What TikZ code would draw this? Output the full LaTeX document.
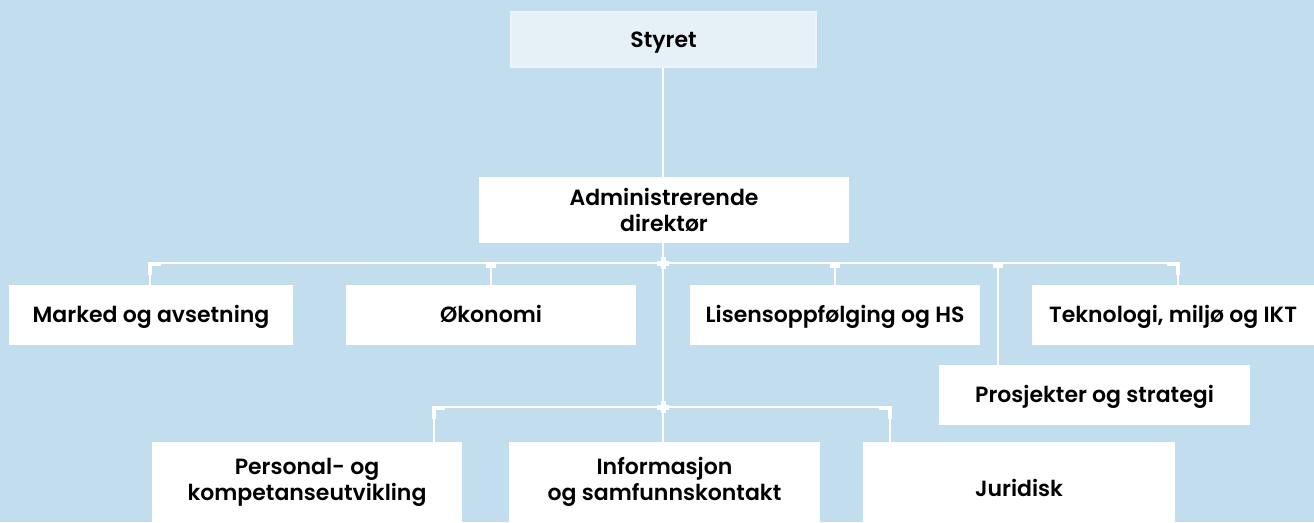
\documentclass[tikz,border=0pt]{standalone}
\usepackage{fontspec}
\setmainfont{Poppins}[UprightFont=* SemiBold, BoldFont=* Bold]
\usetikzlibrary{calc}
\definecolor{bg}{HTML}{C2DDED}
\definecolor{pale}{HTML}{E5F0F7}
\definecolor{paleedge}{HTML}{EDF5FA}
\tikzset{
  box/.style={rectangle, fill=white, inner sep=0pt, align=center, font=\fontsize{22}{26}\selectfont, text=black},
  one/.style={text height=16pt, text depth=0.6pt},
  topbox/.style={box, one, fill=pale, draw=paleedge, line width=1.5pt},
  conn/.style={draw=white, line width=2pt},
}
\begin{document}
\begin{tikzpicture}[x=1pt,y=-1pt]
\useasboundingbox (0,0) rectangle (1314,522);
\fill[bg] (0,0) rectangle (1314,522);
\begin{scope}
\clip (0,0) rectangle (1314,522);
% nodes
\node[topbox, minimum width=305pt, minimum height=55pt] (styret) at (663.5,39.5) {Styret};
\node[box, minimum width=370pt, minimum height=66pt] (adm) at (664,210) {Administrerende\\direktør};
\node[box, one, minimum width=284pt, minimum height=60pt] (marked) at (151,315) {Marked og avsetning};
\node[box, one, minimum width=290pt, minimum height=60pt] (okonomi) at (491,315) {Økonomi};
\node[box, one, minimum width=290pt, minimum height=60pt] (lisens) at (835,315) {Lisensoppfølging og HS};
\node[box, one, minimum width=282pt, minimum height=60pt] (tekn) at (1173,315) {Teknologi, miljø og IKT};
\node[box, one, minimum width=311pt, minimum height=60pt] (prosj) at (1094.5,395) {Prosjekter og strategi};
\node[box, minimum width=310pt, minimum height=80pt] (pers) at (307,482) {Personal- og\\kompetanseutvikling};
\node[box, minimum width=311pt, minimum height=80pt] (info) at (664.5,482) {Informasjon\\og samfunnskontakt};
\node[box, minimum width=312pt, minimum height=80pt, text height=30pt, text depth=0.6pt] (jur) at (1019,482) {Juridisk};
\end{scope}
% bus coordinates
\coordinate (busL) at (150,263);
\coordinate (busR) at (1178,263);
\coordinate (busC) at (663,263);
\coordinate (pd) at (998,263);
\coordinate (bus2L) at (434,407);
\coordinate (bus2R) at (890,407);
\coordinate (bus2C) at (663,407);
% connectors
\draw[conn] (styret.south -| busC) -- (adm.north -| busC);
\draw[conn] (adm.south -| busC) -- (info.north -| busC);
\draw[conn] (marked.north -| busL) -- (busL) -- (busR) -- (tekn.north -| busR);
\draw[conn] (okonomi.north |- busL) -- (okonomi.north);
\draw[conn] (lisens.north |- busL) -- (lisens.north);
\draw[conn] (pd) -- (pd |- prosj.north);
\draw[conn] (pers.north -| bus2L) -- (bus2L) -- (bus2R) -- (jur.north -| bus2R);
% junction markers
\fill[white] ($(okonomi.north |- busL)+(-5,0)$) rectangle ++(10,5);
\fill[white] ($(lisens.north |- busL)+(-5,0)$) rectangle ++(10,5);
\fill[white] ($(pd)+(-5,0)$) rectangle ++(10,5);
\fill[white] ($(busL)+(-2,-1)$) rectangle ++(13,4);
\fill[white] ($(busL)+(-2,-1)$) rectangle ++(4,13);
\fill[white] ($(busR)+(2,-1)$) rectangle ++(-13,4);
\fill[white] ($(busR)+(2,-1)$) rectangle ++(-4,13);
\fill[white] ($(bus2L)+(-2,-1)$) rectangle ++(13,4);
\fill[white] ($(bus2L)+(-2,-1)$) rectangle ++(4,13);
\fill[white] ($(bus2R)+(2,-1)$) rectangle ++(-13,4);
\fill[white] ($(bus2R)+(2,-1)$) rectangle ++(-4,13);
\fill[white] ($(busC)+(-6,-2.5)$) rectangle ++(12,5);
\fill[white] ($(busC)+(-2.5,-6)$) rectangle ++(5,12);
\fill[white] ($(bus2C)+(-6,-2.5)$) rectangle ++(12,5);
\fill[white] ($(bus2C)+(-2.5,-6)$) rectangle ++(5,12);
\end{tikzpicture}
\end{document}
